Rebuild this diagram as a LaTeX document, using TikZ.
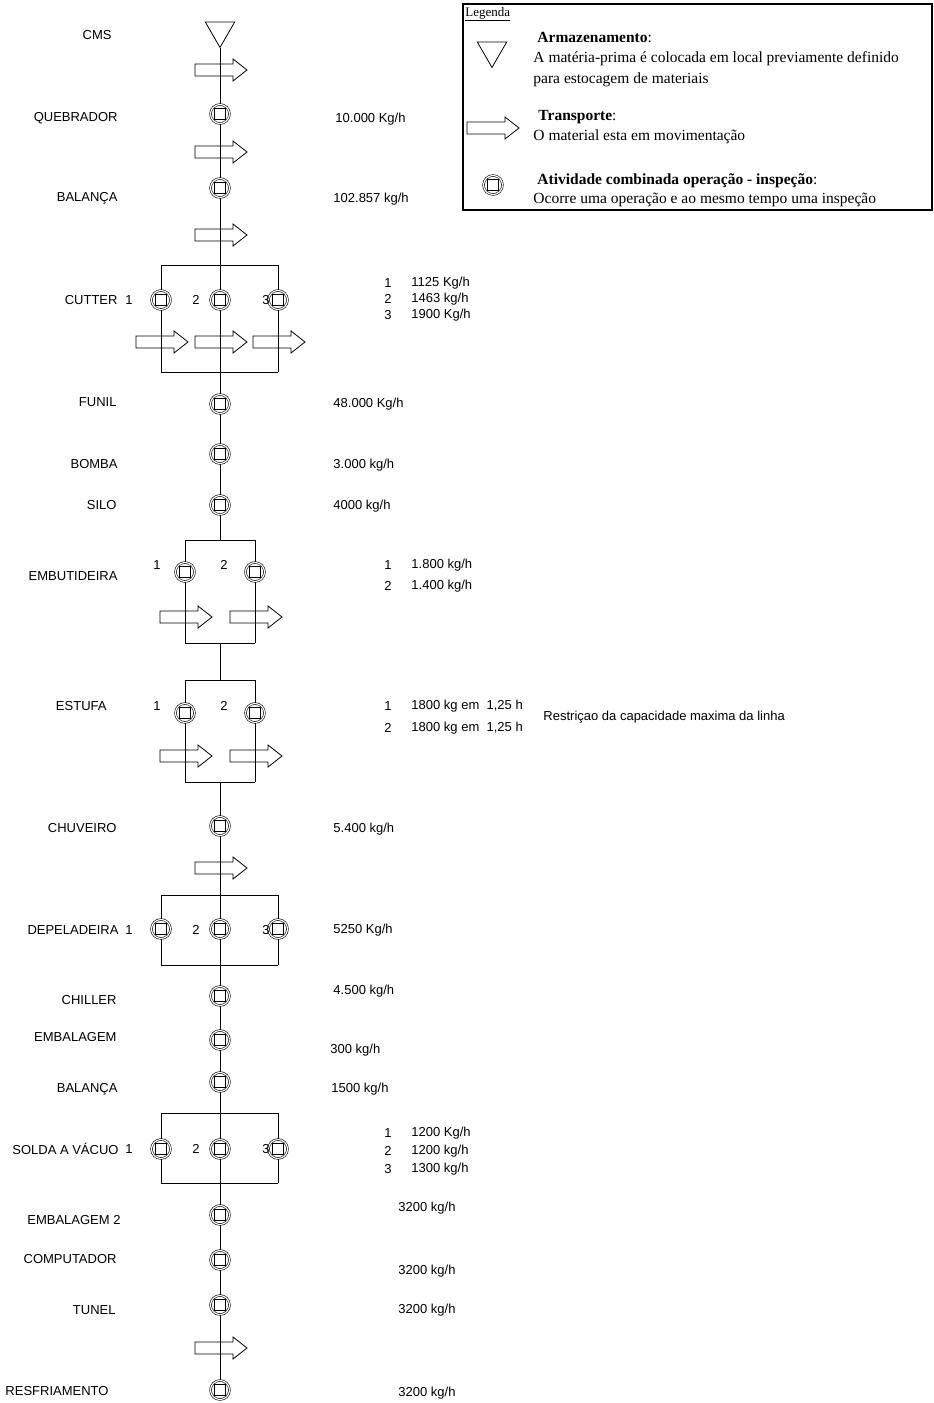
\documentclass[tikz,border=0pt]{standalone}
\usepackage{fontspec}
\setmainfont{Liberation Sans}
\newfontfamily\legfont{Liberation Serif}
\usetikzlibrary{shapes.geometric,positioning}

\newcommand\etq{\fontsize{13}{15}\selectfont}
\newcommand\legtxt{\legfont\fontsize{15.5}{17}\selectfont}

\tikzset{
  op/.style={circle, draw, double, double distance=1.2pt, line width=0.6pt,
    fill=white, minimum size=19pt, inner sep=0pt,
    path picture={\draw[line width=0.8pt]
      ([shift={(-5.5pt,-5.5pt)}]path picture bounding box.center) rectangle
      ([shift={(5.5pt,5.5pt)}]path picture bounding box.center);}},
  armaz/.style={regular polygon, regular polygon sides=3, shape border rotate=180,
    draw, line width=0.8pt, minimum size=34pt, inner sep=0pt},
  etapa/.style={anchor=east, font=\etq, inner sep=0pt},
  num/.style={font=\etq, inner sep=0pt},
  taxa/.style={anchor=west, font=\etq, inner sep=0pt},
  leg/.style={anchor=west, font=\legtxt, inner sep=0pt},
  pics/transp/.style={code={
    \draw[line width=0.8pt] (-25pt,6pt) -- (13pt,6pt) -- (13pt,11pt) -- (27pt,0pt)
      -- (13pt,-11pt) -- (13pt,-6pt) -- (-25pt,-6pt) -- cycle;}}
}

\begin{document}
\begin{tikzpicture}[x=1pt, y=-1pt, line width=0.9pt]
\useasboundingbox (0,0) rectangle (934,1403);

% fluxo principal
\node[armaz] (cms) at (220,30.5) {};
\node[op] (quebrador) at (220,114) {};
\node[op] (balanca) at (220,188) {};
\coordinate (cut-top) at (220,265);
\node[op] (cut1) at (161,300) {};
\node[op] (cut2) at (220,300) {};
\node[op] (cut3) at (278,300) {};
\coordinate (cut-bot) at (220,372);
\node[op] (funil) at (220,404) {};
\node[op] (bomba) at (220,454) {};
\node[op] (silo) at (220,505) {};
\coordinate (emb-top) at (220,540);
\node[op] (emb1) at (185,572) {};
\node[op] (emb2) at (255,572) {};
\coordinate (emb-bot) at (220,643);
\coordinate (est-top) at (220,680);
\node[op] (est1) at (185,713) {};
\node[op] (est2) at (255,713) {};
\coordinate (est-bot) at (220,782);
\node[op] (chuveiro) at (220,826) {};
\coordinate (dep-top) at (220,895);
\node[op] (dep1) at (161,929) {};
\node[op] (dep2) at (220,929) {};
\node[op] (dep3) at (278,929) {};
\coordinate (dep-bot) at (220,965);
\node[op] (chiller) at (220,996) {};
\node[op] (embalagem) at (220,1040) {};
\node[op] (balanca2) at (220,1082) {};
\coordinate (sol-top) at (220,1113);
\node[op] (sol1) at (161,1149) {};
\node[op] (sol2) at (220,1149) {};
\node[op] (sol3) at (278,1149) {};
\coordinate (sol-bot) at (220,1183);
\node[op] (embalagem2) at (220,1215) {};
\node[op] (computador) at (220,1260) {};
\node[op] (tunel) at (220,1305) {};
\node[op] (resfr) at (220,1390) {};

\draw (cms.corner 1) -- (quebrador) -- (balanca) -- (cut-top);
\draw (cut-bot) -- (funil) -- (bomba) -- (silo) -- (emb-top);
\draw (emb-bot) -- (est-top);
\draw (est-bot) -- (chuveiro) -- (dep-top);
\draw (dep-bot) -- (chiller) -- (embalagem) -- (balanca2) -- (sol-top);
\draw (sol-bot) -- (embalagem2) -- (computador) -- (tunel) -- (resfr);

% ramos em paralelo
\foreach \g/\a/\b in {cut/cut1/cut3, emb/emb1/emb2, est/est1/est2, dep/dep1/dep3, sol/sol1/sol3} {
  \draw (\a |- \g-top) -- (\b |- \g-top);
  \draw (\a |- \g-bot) -- (\b |- \g-bot);
}
\foreach \n/\g in {cut1/cut, cut2/cut, cut3/cut, emb1/emb, emb2/emb, est1/est, est2/est,
                   dep1/dep, dep2/dep, dep3/dep, sol1/sol, sol2/sol, sol3/sol}
  \draw (\n |- \g-top) -- (\n) -- (\n |- \g-bot);

% transporte
\foreach \x/\y in {220/70, 220/152, 220/235, 161/342, 220/342, 278/342, 185/617, 255/617,
                   185/756, 255/756, 220/868, 220/1348}
  \pic at (\x,\y) {transp};

% etapas
\node[etapa] (l-cms) at (112,35) {CMS};
\node[etapa] (l-queb) at (118,118) {QUEBRADOR};
\node[etapa] (l-bal) at (118,198) {BALANÇA};
\node[etapa] (l-cut) at (118,300) {CUTTER};
\node[num] (n-cut1) at (129,300) {1};
\node[num] (n-cut2) at (196,300) {2};
\node[num] (n-cut3) at (266,300) {3};
\node[etapa] (l-fun) at (117,402) {FUNIL};
\node[etapa] (l-bom) at (118,464) {BOMBA};
\node[etapa] (l-sil) at (117,505) {SILO};
\node[etapa] (l-emb) at (118,576) {EMBUTIDEIRA};
\node[num] (n-emb1) at (157,565) {1};
\node[num] (n-emb2) at (224,565) {2};
\node[etapa] (l-est) at (107,706) {ESTUFA};
\node[num] (n-est1) at (157,706) {1};
\node[num] (n-est2) at (224,706) {2};
\node[etapa] (l-chu) at (117,828) {CHUVEIRO};
\node[etapa] (l-dep) at (119,930) {DEPELADEIRA};
\node[num] (n-dep1) at (129,930) {1};
\node[num] (n-dep2) at (196,930) {2};
\node[num] (n-dep3) at (266,930) {3};
\node[etapa] (l-chi) at (117,1000) {CHILLER};
\node[etapa] (l-emba) at (117,1037) {EMBALAGEM};
\node[etapa] (l-bal2) at (118,1089) {BALANÇA};
\node[etapa] (l-sol) at (119,1149) {SOLDA A VÁCUO};
\node[num] (n-sol1) at (129,1149) {1};
\node[num] (n-sol2) at (196,1149) {2};
\node[num] (n-sol3) at (266,1149) {3};
\node[etapa] (l-emb2) at (121,1220) {EMBALAGEM 2};
\node[etapa] (l-comp) at (117,1259) {COMPUTADOR};
\node[etapa] (l-tun) at (116,1310) {TUNEL};
\node[etapa, anchor=west] (l-res) at (5,1391) {RESFRIAMENTO};

% capacidades
\node[taxa] (t-queb) at (335,119) {10.000 Kg/h};
\node[taxa] (t-bal) at (333,199) {102.857 kg/h};
\node[num] (c-cut1) at (388,283) {1};
\node[taxa] (t-cut1) at (411,283) {1125 Kg/h};
\node[num] (c-cut2) at (388,299) {2};
\node[taxa] (t-cut2) at (411,299) {1463 kg/h};
\node[num] (c-cut3) at (388,315) {3};
\node[taxa] (t-cut3) at (411,315) {1900 Kg/h};
\node[taxa] (t-fun) at (333,404) {48.000 Kg/h};
\node[taxa] (t-bom) at (333,465) {3.000 kg/h};
\node[taxa] (t-sil) at (333,506) {4000 kg/h};
\node[num] (c-emb1) at (388,565) {1};
\node[taxa] (t-emb1) at (411,565) {1.800 kg/h};
\node[num] (c-emb2) at (388,586) {2};
\node[taxa] (t-emb2) at (411,586) {1.400 kg/h};
\node[num] (c-est1) at (388,706) {1};
\node[taxa] (t-est1) at (411,706) {1800 kg em \ 1,25 h};
\node[num] (c-est2) at (388,728) {2};
\node[taxa] (t-est2) at (411,728) {1800 kg em \ 1,25 h};
\node[taxa] (restr) at (543,717) {Restriçao da capacidade maxima da linha};
\node[taxa] (t-chu) at (333,829) {5.400 kg/h};
\node[taxa] (t-dep) at (333,930) {5250 Kg/h};
\node[taxa] (t-chi) at (333,991) {4.500 kg/h};
\node[taxa] (t-emba) at (330,1050) {300 kg/h};
\node[taxa] (t-bal2) at (331,1089) {1500 kg/h};
\node[num] (c-sol1) at (388,1133) {1};
\node[taxa] (t-sol1) at (411,1133) {1200 Kg/h};
\node[num] (c-sol2) at (388,1151) {2};
\node[taxa] (t-sol2) at (411,1151) {1200 kg/h};
\node[num] (c-sol3) at (388,1169) {3};
\node[taxa] (t-sol3) at (411,1169) {1300 kg/h};
\node[taxa] (t-embl2) at (398,1208) {3200 kg/h};
\node[taxa] (t-comp) at (398,1271) {3200 kg/h};
\node[taxa] (t-tun) at (398,1310) {3200 kg/h};
\node[taxa] (t-res) at (398,1393) {3200 kg/h};

% legenda
\draw[line width=1.6pt] (463,4) rectangle (932,210);
\node[leg, font=\legfont\fontsize{13}{15}\selectfont] (legenda) at (465,14) {\underline{Legenda}};
\node[armaz] (leg-armaz) at (492,50.5) {};
\node[leg] (leg-a1) at (537,37) {\textbf{Armazenamento}:};
\node[leg] (leg-a2) at (533,59) {A matéria-prima é colocada em local previamente definido};
\node[leg] (leg-a3) at (533,80) {para estocagem de materiais};
\pic at (492,128) {transp};
\node[leg] (leg-t1) at (538,117) {\textbf{Transporte}:};
\node[leg] (leg-t2) at (533,137) {O material esta em movimentação};
\node[op] (leg-op) at (493,185) {};
\node[leg] (leg-o1) at (537,181) {\textbf{Atividade combinada operação - inspeção}:};
\node[leg] (leg-o2) at (533,200) {Ocorre uma operação e ao mesmo tempo uma inspeção};
\end{tikzpicture}
\end{document}
